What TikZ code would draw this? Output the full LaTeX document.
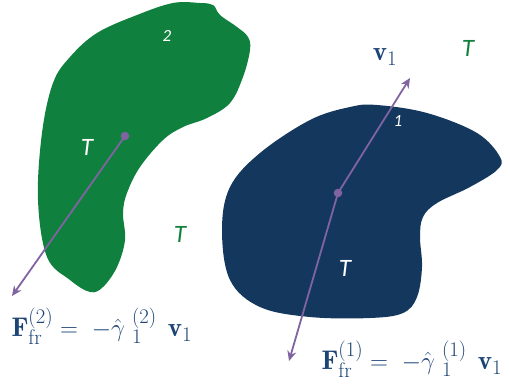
\documentclass[tikz,border=0pt]{standalone}
\usepackage{fontspec}
\setsansfont{Carlito}
\DeclareMathSizes{27}{27}{21}{16}
\usetikzlibrary{arrows.meta}
\definecolor{gr}{HTML}{10803E}
\definecolor{nv}{HTML}{14375E}
\definecolor{pu}{HTML}{8064A2}
\definecolor{fb}{HTML}{1C4474}
\begin{document}
\begin{tikzpicture}[x=1pt,y=-1pt,
  vec/.style={pu, line width=1.8pt, -{Stealth[length=10pt,width=9pt]}},
  dotc/.style={circle, fill=pu, inner sep=0pt, minimum size=8.5pt},
  wlab/.style={text=white, font=\sffamily\itshape\fontsize{25}{30}\selectfont},
  nlab/.style={text=white, font=\sffamily\itshape\fontsize{17}{20}\selectfont},
  glab/.style={text=gr, font=\sffamily\itshape\fontsize{25}{30}\selectfont},
  flab/.style={text=fb, font=\fontsize{27}{32}\selectfont}]
\useasboundingbox (0,0) rectangle (510,386);
% green body 2
\fill[gr] plot[smooth cycle, tension=0.6] coordinates {(213,5) (220,15) (237,27) (248,37) (250,50) (243,77) (230,103) (207,118) (183,127) (163,140) (140,167) (127,193) (123,213) (125,240) (117,267) (103,287) (90,292) (70,280) (47,257) (38,200) (42,133) (53,83) (70,57) (97,33) (137,15) (173,3) (200,3)};
% navy body 1
\fill[nv] plot[smooth cycle, tension=0.6] coordinates {(377,105) (427,113) (477,133) (500,157) (497,170) (470,187) (437,203) (423,217) (420,237) (422,267) (417,297) (403,313) (370,318) (310,317) (260,307) (230,280) (222,230) (230,187) (260,153) (310,120) (350,107)};
% labels
\node[nlab] (n2) at (167,36) {2};
\node[nlab] (n1) at (398,121) {1};
\node[wlab] (t2) at (87,147) {T};
\node[wlab] (t1) at (345,268) {T};
\node[glab] (tg1) at (180,234) {T};
\node[glab] (tg2) at (468,48) {T};
\node[flab] (v1) at (385,57) {$\mathbf{v}_1$};
% vectors
\node[dotc] (d2) at (125,136) {};
\coordinate (e2) at (12,296);
\draw[vec] (d2.center) -- (e2);
\node[dotc] (d1) at (338,193) {};
\coordinate (e1) at (410,78);
\coordinate (e3) at (289,361);
\draw[vec] (d1.center) -- (e1);
\draw[vec] (d1.center) -- (e3);
% formulas
\node[flab, anchor=west] (f2) at (8,326) {$\mathbf{F}_{\mathrm{fr}}^{(2)} = \;-\hat{\gamma}\;{}_{1}^{(2)}\;\,\mathbf{v}_1$};
\node[flab, anchor=west] (f1) at (318,359) {$\mathbf{F}_{\mathrm{fr}}^{(1)} = \;-\hat{\gamma}\;{}_{1}^{(1)}\;\,\mathbf{v}_1$};
\end{tikzpicture}
\end{document}
